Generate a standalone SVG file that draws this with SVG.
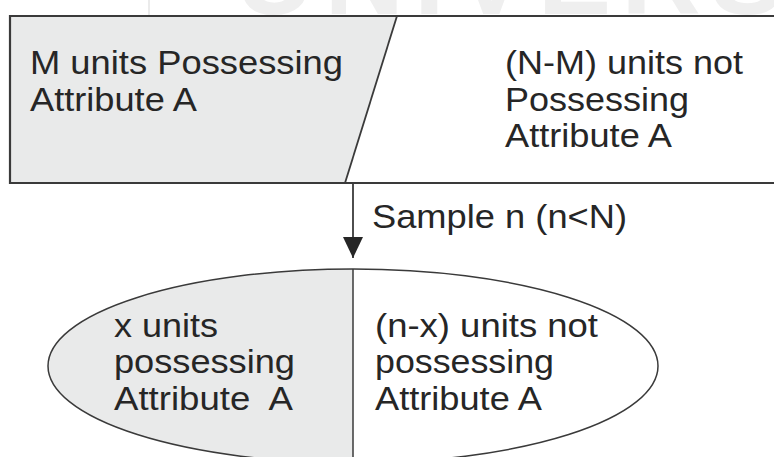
<svg xmlns="http://www.w3.org/2000/svg" width="774" height="457" viewBox="0 0 774 457">
<style>
.t{font-family:"Liberation Sans",Arial,sans-serif;font-size:33px;fill:#262626}
.edge{stroke:#3a3a3a;fill:none}
.wm{font-family:"Liberation Sans",Arial,sans-serif;font-weight:bold;font-size:110px;fill:#efefef;letter-spacing:10px}
</style>
<defs>
<marker id="ah" viewBox="0 0 21 20" refX="21" refY="10" markerWidth="21" markerHeight="20" markerUnits="userSpaceOnUse" orient="auto">
<path d="M0,0 L21,10 L0,20 Z" fill="#262626"/>
</marker>
</defs>
<rect width="774" height="457" fill="#ffffff"/>
<g id="watermark">
<text class="wm" x="235" y="14">UNIVERS</text>
<line x1="149" y1="0" x2="149" y2="35" stroke="#e4e4e4" stroke-width="1.5"/>
</g>
<g id="population">
<path d="M10,16 L397,16 L345,183 L10,183 Z" fill="#e9eaea"/>
<path d="M785,16 L10,16 L10,183 L785,183" class="edge" stroke-width="2.2"/>
<line x1="397" y1="16" x2="345" y2="183" class="edge" stroke-width="1.8"/>
<text class="t" x="30" y="74" textLength="313" lengthAdjust="spacingAndGlyphs">M units Possessing</text>
<text class="t" x="30" y="111" textLength="167" lengthAdjust="spacingAndGlyphs">Attribute A</text>
<text class="t" x="505" y="74" textLength="238" lengthAdjust="spacingAndGlyphs">(N-M) units not</text>
<text class="t" x="505" y="111" textLength="184" lengthAdjust="spacingAndGlyphs">Possessing</text>
<text class="t" x="505" y="147" textLength="167" lengthAdjust="spacingAndGlyphs">Attribute A</text>
</g>
<g id="sample">
<path d="M353,269 A305,97 0 0,0 353,463 Z" fill="#e9eaea"/>
<ellipse cx="353" cy="366" rx="305" ry="97" class="edge" stroke-width="1.5"/>
<line x1="353" y1="269" x2="353" y2="463" class="edge" stroke-width="1.5"/>
<text class="t" x="114" y="337" textLength="104" lengthAdjust="spacingAndGlyphs">x units</text>
<text class="t" x="114" y="373" textLength="181" lengthAdjust="spacingAndGlyphs">possessing</text>
<text class="t" x="114" y="410" textLength="179" lengthAdjust="spacingAndGlyphs" xml:space="preserve">Attribute  A</text>
<text class="t" x="375" y="337" textLength="223" lengthAdjust="spacingAndGlyphs">(n-x) units not</text>
<text class="t" x="375" y="373" textLength="179" lengthAdjust="spacingAndGlyphs">possessing</text>
<text class="t" x="375" y="410" textLength="167" lengthAdjust="spacingAndGlyphs">Attribute A</text>
</g>
<g id="connectors">
<line x1="353" y1="183" x2="353" y2="258" class="edge" stroke-width="1.8" marker-end="url(#ah)"/>
<text class="t" x="372" y="228" textLength="255" lengthAdjust="spacingAndGlyphs">Sample n (n&lt;N)</text>
</g>
</svg>
